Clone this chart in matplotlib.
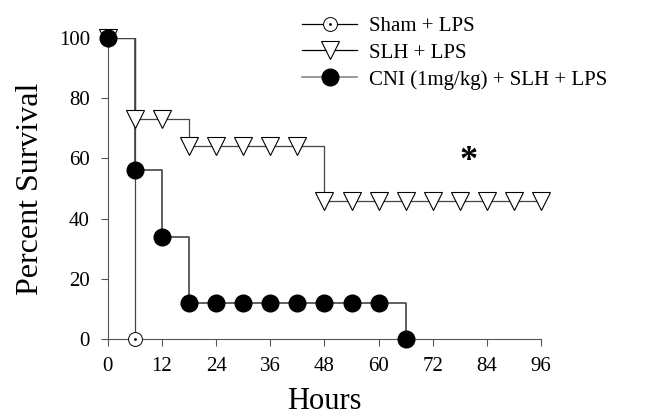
import numpy as np
import matplotlib.pyplot as plt
from matplotlib.legend_handler import HandlerTuple

plt.rcParams['font.family'] = ['Liberation Serif', 'DejaVu Serif']

# Survival data (hours, percent)
sham_hours = [0, 6]
sham_surv = [100, 0]

slh_hours = [0, 6, 12, 18, 24, 30, 36, 42, 48, 54, 60, 66, 72, 78, 84, 90, 96]
slh_surv = [100, 73, 73, 64, 64, 64, 64, 64, 46, 46, 46, 46, 46, 46, 46, 46, 46]

cni_hours = [0, 6, 12, 18, 24, 30, 36, 42, 48, 54, 60, 66]
cni_surv = [100, 56, 34, 12, 12, 12, 12, 12, 12, 12, 12, 0]

x_ticks = [0, 12, 24, 36, 48, 60, 72, 84, 96]
y_ticks = [0, 20, 40, 60, 80, 100]

fig = plt.figure(figsize=(6.46, 4.2), dpi=100)
ax = fig.add_axes([0.167, 0.193, 0.6705, 0.7165])

line_col = "#444444"
ms = 12

# step lines
ax.step(sham_hours, sham_surv, where="post", color=line_col, lw=0.9, zorder=1)
ax.step(slh_hours, slh_surv, where="post", color=line_col, lw=0.9, zorder=1)
ax.step(cni_hours, cni_surv, where="post", color=line_col, lw=1.2, zorder=1)

# markers
m_slh, = ax.plot(slh_hours, slh_surv, ls="none", marker="v", ms=ms + 1,
                 mfc="white", mec="black", mew=0.8, clip_on=False, zorder=3)
m_cni, = ax.plot(cni_hours, cni_surv, ls="none", marker="o", ms=ms,
                 mfc="black", mec="black", clip_on=False, zorder=4)
m_sham, = ax.plot(sham_hours[1:], sham_surv[1:], ls="none", marker="o", ms=ms - 2,
                  mfc="white", mec="black", mew=0.7, clip_on=False, zorder=5)
m_sham_dot, = ax.plot(sham_hours[1:], sham_surv[1:], ls="none", marker=".",
                      ms=2, color="black", clip_on=False, zorder=6)

ax.text(80, 59, "*", fontsize=26, fontweight="bold", ha="center", va="center")

ax.set_xlim(0, 96)
ax.set_ylim(0, 100)
ax.set_xticks(x_ticks)
ax.set_yticks(y_ticks)
ax.tick_params(labelsize=15, direction="out", length=5, width=0.8,
               color="#555555", pad=8)
for s in ["top", "right"]:
    ax.spines[s].set_visible(False)
for s in ["left", "bottom"]:
    ax.spines[s].set_color("#555555")
    ax.spines[s].set_linewidth(0.8)

ax.set_xlabel("Hours", fontsize=22, labelpad=8)
ax.set_ylabel("Percent Survival", fontsize=23, labelpad=10)

# legend handles
h_sham_line, = ax.plot([], [], color="black", lw=0.9)
h_slh_line, = ax.plot([], [], color="black", lw=0.9)
h_cni_line, = ax.plot([], [], color="#888888", lw=1.2)
h_sham = (h_sham_line, m_sham, m_sham_dot)
h_slh = (h_slh_line, m_slh)
h_cni = (h_cni_line, m_cni)
ax.legend([h_sham, h_slh, h_cni],
          ["Sham + LPS", "SLH + LPS", "CNI (1mg/kg) + SLH + LPS"],
          handler_map={tuple: HandlerTuple(ndivide=1, pad=0)},
          loc="upper left", bbox_to_anchor=(0.43, 1.10), frameon=False,
          fontsize=15, handlelength=2.6, handletextpad=0.6,
          labelspacing=0.35, borderaxespad=0)

fig.savefig("out.png", dpi=100)
